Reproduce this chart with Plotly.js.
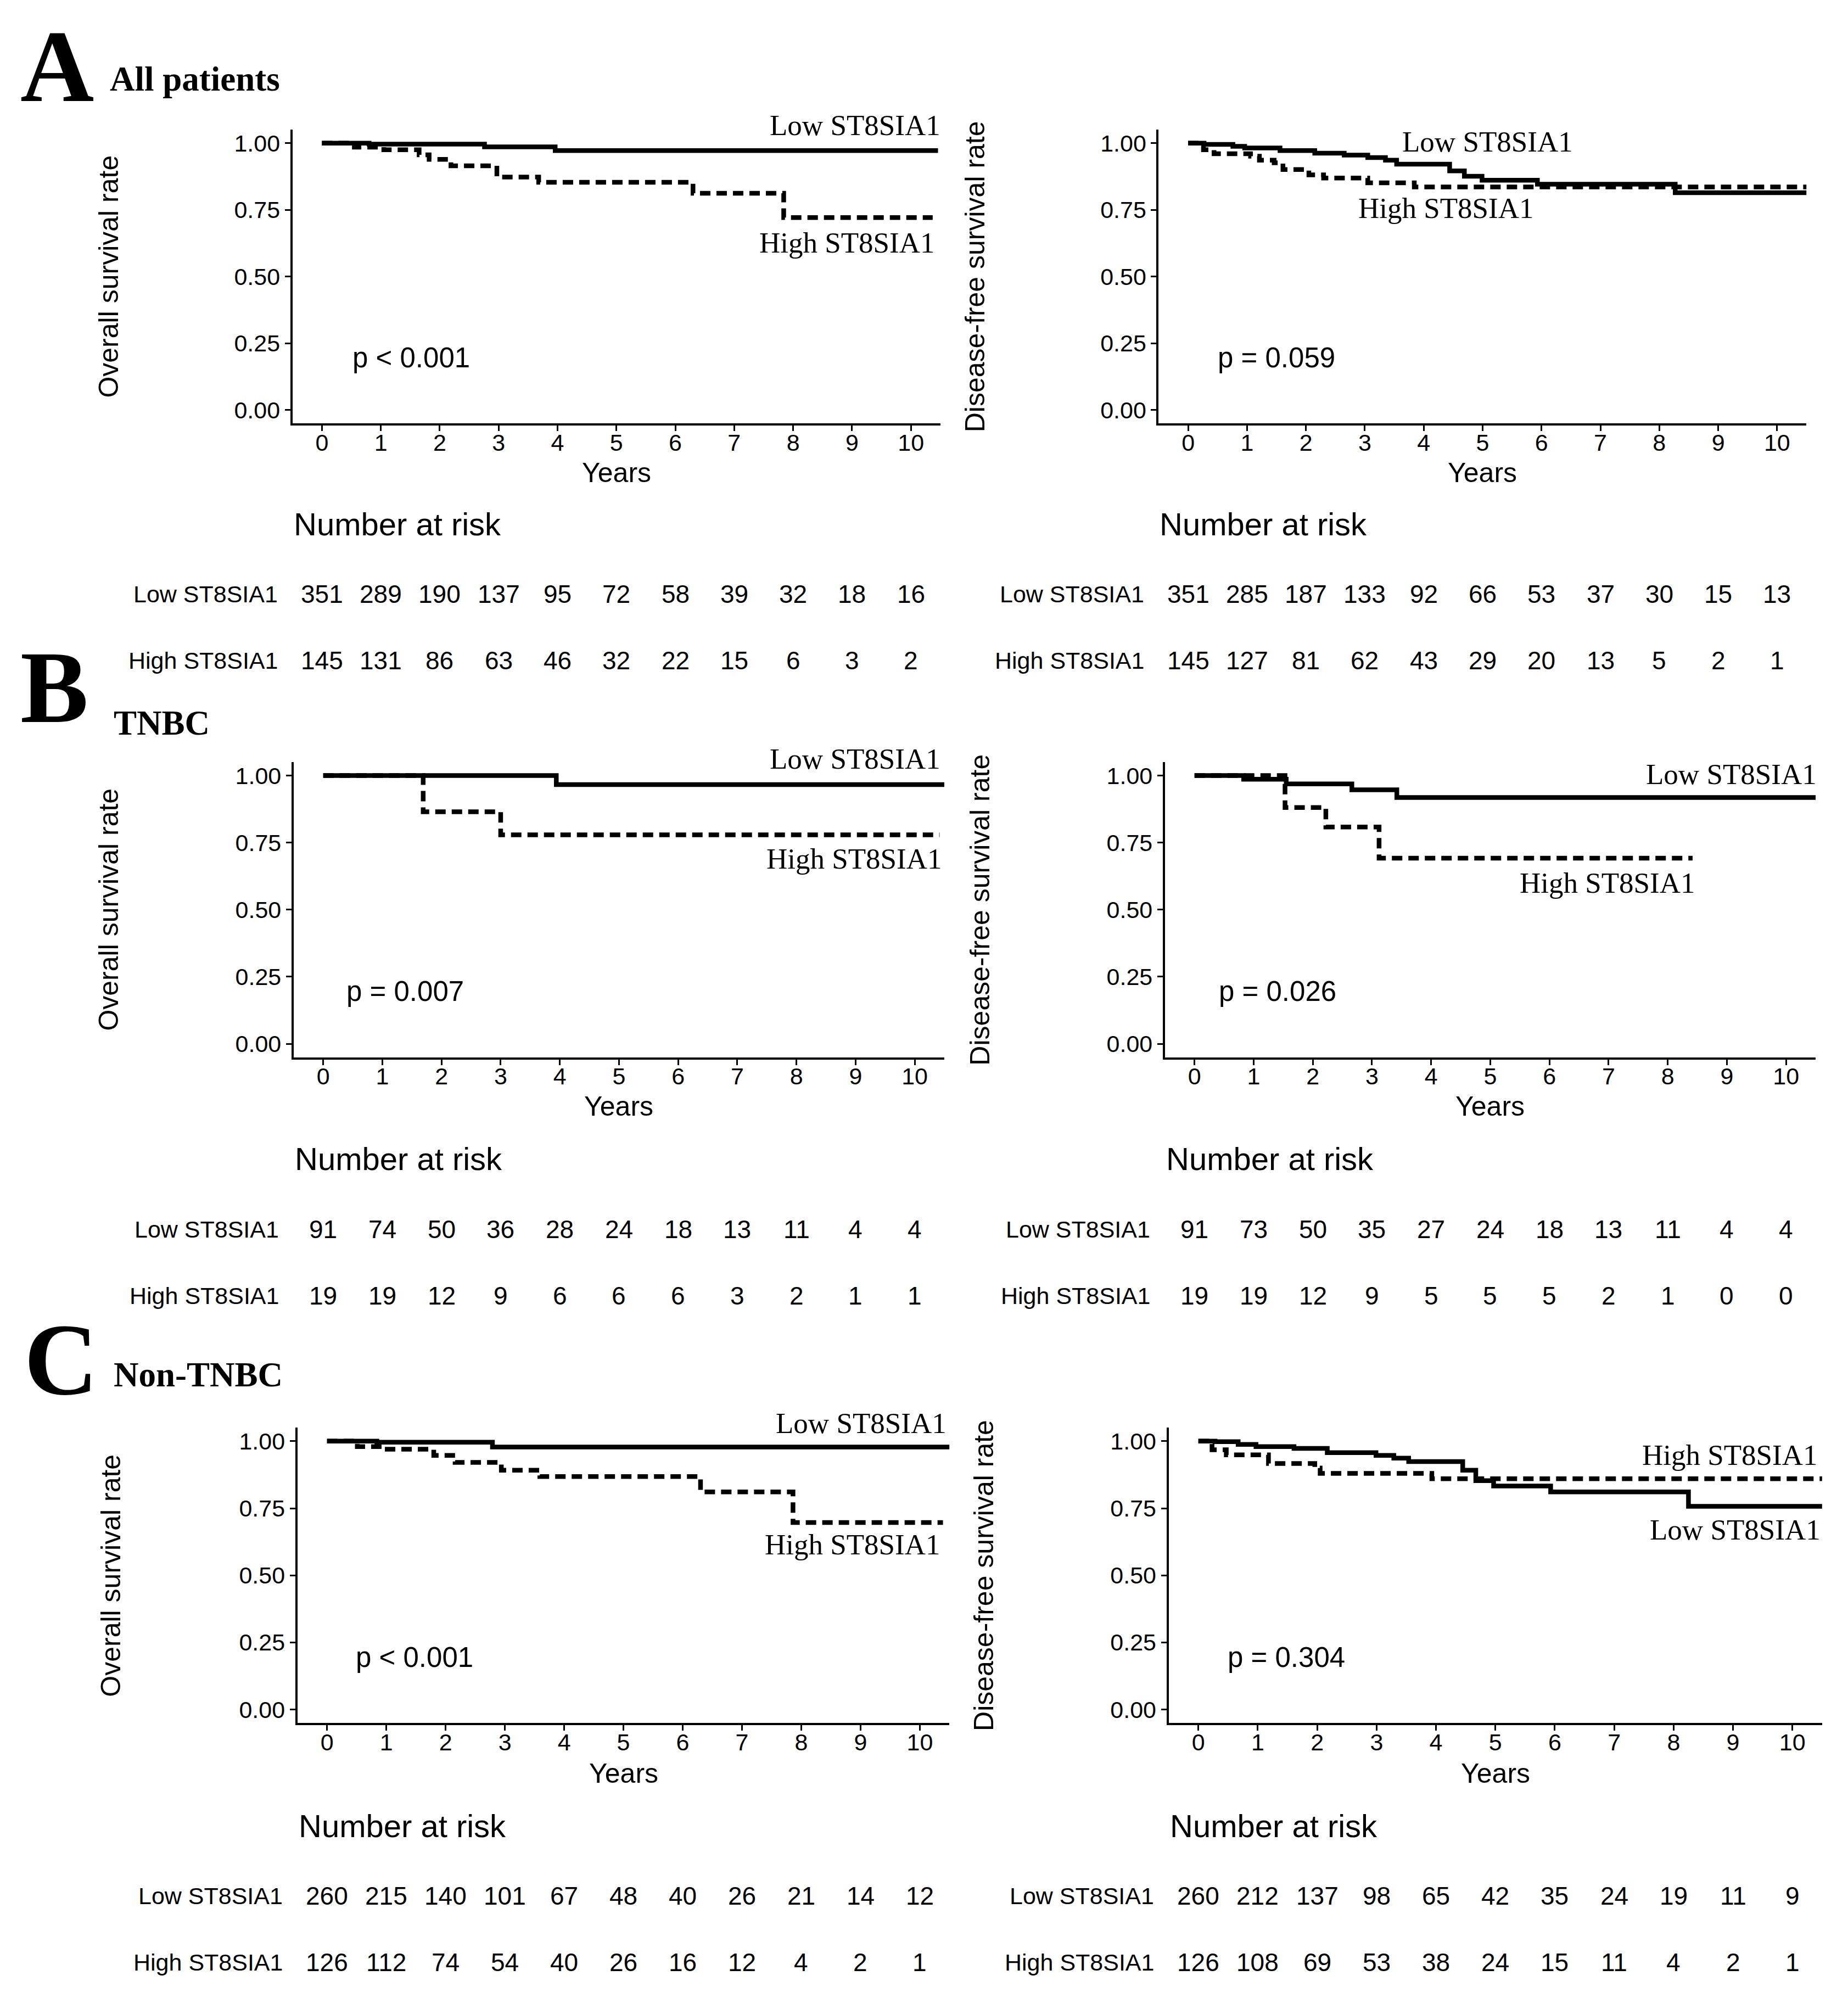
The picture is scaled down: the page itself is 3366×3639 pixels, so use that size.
<!DOCTYPE html>
<html>
<head>
<meta charset="utf-8">
<script src="https://cdn.plot.ly/plotly-3.0.1.min.js"></script>
<style>
html,body{margin:0;padding:0;background:#ffffff;}
#chart{width:3366px;height:3639px;}
</style>
</head>
<body>
<div id="chart"></div>
<script>
// ---------------- DATA ----------------
const yearTicks = [0, 1, 2, 3, 4, 5, 6, 7, 8, 9, 10];
const survTicks = [0, 0.25, 0.5, 0.75, 1];
const survTickText = ['0.00', '0.25', '0.50', '0.75', '1.00'];
const groupLow = 'Low ST8SIA1';
const groupHigh = 'High ST8SIA1';

// A - All patients, overall survival
const osAllLowTime  = [0, 0.80, 2.76, 3.96, 10.46];
const osAllLowSurv  = [1.000, 0.996, 0.986, 0.972, 0.972];
const osAllHighTime = [0, 0.55, 1.05, 1.65, 1.82, 2.19, 2.97, 3.68, 6.30, 7.84, 10.37];
const osAllHighSurv = [1.000, 0.985, 0.975, 0.956, 0.939, 0.915, 0.873, 0.853, 0.812, 0.721, 0.721];
// A - All patients, disease-free survival
const dfsAllLowTime  = [0, 0.27, 0.76, 0.96, 1.56, 2.15, 2.65, 3.05, 3.35, 3.54, 4.44, 4.69, 4.99, 5.93, 8.27, 10.5];
const dfsAllLowSurv  = [1.000, 0.995, 0.988, 0.982, 0.972, 0.962, 0.955, 0.946, 0.936, 0.921, 0.896, 0.876, 0.861, 0.846, 0.814, 0.814];
const dfsAllHighTime = [0, 0.26, 0.44, 1.06, 1.21, 1.46, 1.61, 2.05, 2.30, 3.05, 3.84, 10.5];
const dfsAllHighSurv = [1.000, 0.975, 0.960, 0.951, 0.936, 0.926, 0.901, 0.881, 0.869, 0.851, 0.836, 0.836];

// B - TNBC, overall survival
const osTnbcLowTime  = [0, 3.94, 10.5];
const osTnbcLowSurv  = [1.000, 0.966, 0.966];
const osTnbcHighTime = [0, 1.69, 3.00, 10.42];
const osTnbcHighSurv = [1.000, 0.865, 0.779, 0.779];
// B - TNBC, disease-free survival
const dfsTnbcLowTime  = [0, 0.83, 1.55, 2.66, 3.42, 10.5];
const dfsTnbcLowSurv  = [1.000, 0.986, 0.969, 0.947, 0.918, 0.918];
const dfsTnbcHighTime = [0, 1.53, 2.22, 3.12, 8.42];
const dfsTnbcHighSurv = [1.000, 0.881, 0.808, 0.692, 0.692];

// C - Non-TNBC, overall survival
const osNonLowTime  = [0, 0.84, 2.79, 10.5];
const osNonLowSurv  = [1.000, 0.996, 0.978, 0.978];
const osNonHighTime = [0, 0.51, 0.97, 1.80, 2.16, 2.94, 3.59, 6.30, 7.86, 10.39];
const osNonHighSurv = [1.000, 0.980, 0.970, 0.947, 0.921, 0.892, 0.868, 0.811, 0.697, 0.697];
// C - Non-TNBC, disease-free survival
const dfsNonLowTime  = [0, 0.28, 0.67, 0.97, 1.61, 2.17, 2.99, 3.29, 3.54, 4.45, 4.67, 4.97, 5.93, 8.25, 10.5];
const dfsNonLowSurv  = [1.000, 0.998, 0.988, 0.980, 0.973, 0.957, 0.947, 0.937, 0.924, 0.892, 0.853, 0.833, 0.811, 0.757, 0.757];
const dfsNonHighTime = [0, 0.23, 0.47, 1.18, 1.96, 2.05, 3.93, 10.5];
const dfsNonHighSurv = [1.000, 0.968, 0.949, 0.917, 0.900, 0.880, 0.860, 0.860];

// Numbers at risk (at years 0..10)
const riskOsAllLow   = [351, 289, 190, 137, 95, 72, 58, 39, 32, 18, 16];
const riskOsAllHigh  = [145, 131, 86, 63, 46, 32, 22, 15, 6, 3, 2];
const riskDfsAllLow  = [351, 285, 187, 133, 92, 66, 53, 37, 30, 15, 13];
const riskDfsAllHigh = [145, 127, 81, 62, 43, 29, 20, 13, 5, 2, 1];
const riskOsTnbcLow   = [91, 74, 50, 36, 28, 24, 18, 13, 11, 4, 4];
const riskOsTnbcHigh  = [19, 19, 12, 9, 6, 6, 6, 3, 2, 1, 1];
const riskDfsTnbcLow  = [91, 73, 50, 35, 27, 24, 18, 13, 11, 4, 4];
const riskDfsTnbcHigh = [19, 19, 12, 9, 5, 5, 5, 2, 1, 0, 0];
const riskOsNonLow   = [260, 215, 140, 101, 67, 48, 40, 26, 21, 14, 12];
const riskOsNonHigh  = [126, 112, 74, 54, 40, 26, 16, 12, 4, 2, 1];
const riskDfsNonLow  = [260, 212, 137, 98, 65, 42, 35, 24, 19, 11, 9];
const riskDfsNonHigh = [126, 108, 69, 53, 38, 24, 15, 11, 4, 2, 1];

const pValues = ['p < 0.001', 'p = 0.059', 'p = 0.007', 'p = 0.026', 'p < 0.001', 'p = 0.304'];
const yTitles = ['Overall survival rate', 'Disease-free survival rate'];
const sectionLetters = ['A', 'B', 'C'];
const sectionTitles = ['All patients', 'TNBC', 'Non-TNBC'];

// ---------------- LAYOUT GEOMETRY (reference units) ----------------
const W = 3366, H = 3639, S = 2.327;
const SANS = 'Liberation Sans, Arial, sans-serif';
const SERIF = 'Liberation Serif, Times New Roman, serif';

const panels = [
  {low:[osAllLowTime, osAllLowSurv], high:[osAllHighTime, osAllHighSurv], rl:riskOsAllLow, rh:riskOsAllHigh,
   g:{x0:252, x10:713, y1:112, y0:321}, yt:0, ytx:85, row:0,
   lowLab:{x:10.52, y:1.067, a:'right'}, highLab:{x:10.43, y:0.627, a:'right'}, pp:{x:0.50, y:0.196}},
  {low:[dfsAllLowTime, dfsAllLowSurv], high:[dfsAllHighTime, dfsAllHighSurv], rl:riskDfsAllLow, rh:riskDfsAllHigh,
   g:{x0:930, x10:1391, y1:112, y0:321}, yt:1, ytx:763, row:0,
   lowLab:{x:5.08, y:1.005, a:'center'}, highLab:{x:4.38, y:0.756, a:'center'}, pp:{x:0.48, y:0.196}},
  {low:[osTnbcLowTime, osTnbcLowSurv], high:[osTnbcHighTime, osTnbcHighSurv], rl:riskOsTnbcLow, rh:riskOsTnbcHigh,
   g:{x0:253, x10:716, y1:607, y0:817}, yt:0, ytx:85, row:1,
   lowLab:{x:10.45, y:1.062, a:'right'}, highLab:{x:10.48, y:0.690, a:'right'}, pp:{x:0.37, y:0.195}},
  {low:[dfsTnbcLowTime, dfsTnbcLowSurv], high:[dfsTnbcHighTime, dfsTnbcHighSurv], rl:riskDfsTnbcLow, rh:riskDfsTnbcHigh,
   g:{x0:935, x10:1398, y1:607, y0:817}, yt:1, ytx:767, row:1,
   lowLab:{x:10.54, y:1.005, a:'right'}, highLab:{x:6.98, y:0.600, a:'center'}, pp:{x:0.39, y:0.195}},
  {low:[osNonLowTime, osNonLowSurv], high:[osNonHighTime, osNonHighSurv], rl:riskOsNonLow, rh:riskOsNonHigh,
   g:{x0:256, x10:720, y1:1128, y0:1338}, yt:0, ytx:87, row:2,
   lowLab:{x:10.47, y:1.067, a:'right'}, highLab:{x:10.37, y:0.614, a:'right'}, pp:{x:0.47, y:0.195}},
  {low:[dfsNonLowTime, dfsNonLowSurv], high:[dfsNonHighTime, dfsNonHighSurv], rl:riskDfsNonLow, rh:riskDfsNonHigh,
   g:{x0:938, x10:1403, y1:1128, y0:1338}, yt:1, ytx:770, row:2,
   lowLab:{x:10.49, y:0.671, a:'right'}, highLab:{x:10.45, y:0.948, a:'right'}, pp:{x:0.47, y:0.195}}
];

const rowGeo = [
  {letterY:52, titleY:62, yearsY:370, narY:410, lowY:465, highY:517, letterX:15, titleX:85},
  {letterY:538, titleY:566, yearsY:866, narY:907, lowY:962, highY:1014, letterX:15, titleX:88},
  {letterY:1064, titleY:1076, yearsY:1388, narY:1429, lowY:1484, highY:1536, letterX:18, titleX:88}
];

const px = v => v * S / W;          // reference x -> paper x
const py = v => 1 - v * S / H;      // reference y -> paper y

const data = [];
const layout = {
  width: W, height: H,
  margin: {l:0, r:0, t:0, b:0, pad:0},
  paper_bgcolor: '#ffffff', plot_bgcolor: '#ffffff',
  showlegend: false,
  annotations: []
};
const A = layout.annotations;

panels.forEach((p, i) => {
  const n = i + 1;
  const xa = 'x' + (n === 1 ? '' : n), ya = 'y' + (n === 1 ? '' : n);
  const g = p.g;
  const u = (g.x10 - g.x0) / 10, h = g.y0 - g.y1;
  const left = g.x0 - 0.5 * u, right = g.x10 + 0.5 * u;
  const top = g.y1 - 0.05 * h, bottom = g.y0 + 0.05 * h;
  const gx = t => px(g.x0 + t * u);          // year -> paper x (for labels outside the axis range)
  const gy = v => py(g.y0 - v * h);          // survival -> paper y

  layout['xaxis' + (n === 1 ? '' : n)] = {
    domain: [px(left), px(right)], range: [-0.5, 10.5], anchor: ya,
    tickvals: yearTicks, ticktext: yearTicks.map(String),
    ticks: 'outside', ticklen: 10, tickwidth: 3, tickcolor: '#000', ticklabelstandoff: -16,
    showline: true, linecolor: '#000', linewidth: 4,
    showgrid: false, zeroline: false, fixedrange: true,
    tickfont: {family: SANS, size: 43, color: '#000'}
  };
  layout['yaxis' + (n === 1 ? '' : n)] = {
    domain: [py(bottom), py(top)], range: [-0.05, 1.05], anchor: xa,
    tickvals: survTicks, ticktext: survTickText,
    ticks: 'outside', ticklen: 10, tickwidth: 3, tickcolor: '#000',
    showline: true, linecolor: '#000', linewidth: 4,
    showgrid: false, zeroline: false, fixedrange: true,
    tickfont: {family: SANS, size: 43, color: '#000'}
  };

  data.push({x: p.low[0], y: p.low[1], xaxis: xa, yaxis: ya, mode: 'lines', name: groupLow,
             line: {shape: 'hv', color: '#000', width: 8.5}, hoverinfo: 'skip'});
  data.push({x: p.high[0], y: p.high[1], xaxis: xa, yaxis: ya, mode: 'lines', name: groupHigh,
             line: {shape: 'hv', color: '#000', width: 8.5, dash: '19px,11px'}, hoverinfo: 'skip'});

  // curve labels
  A.push({xref: 'paper', yref: 'paper', x: gx(p.lowLab.x), y: gy(p.lowLab.y), text: groupLow, showarrow: false,
          xanchor: p.lowLab.a, yanchor: 'middle', font: {family: SERIF, size: 53, color: '#000'}});
  A.push({xref: 'paper', yref: 'paper', x: gx(p.highLab.x), y: gy(p.highLab.y), text: groupHigh, showarrow: false,
          xanchor: p.highLab.a, yanchor: 'middle', font: {family: SERIF, size: 53, color: '#000'}});
  // p value
  A.push({xref: xa, yref: ya, x: p.pp.x, y: p.pp.y, text: pValues[i], showarrow: false,
          xanchor: 'left', yanchor: 'middle', font: {family: SANS, size: 51, color: '#000'}});
  // y title
  A.push({xref: 'paper', yref: ya, x: px(p.ytx), y: 0.5, text: yTitles[p.yt], showarrow: false,
          textangle: -90, xanchor: 'center', yanchor: 'middle', font: {family: SANS, size: 50, color: '#000'}});

  const rg = rowGeo[p.row];
  // x title
  A.push({xref: 'paper', yref: 'paper', x: px((left + right) / 2), y: py(rg.yearsY), text: 'Years', showarrow: false,
          xanchor: 'center', yanchor: 'middle', font: {family: SANS, size: 50, color: '#000'}});
  // risk table
  A.push({xref: 'paper', yref: 'paper', x: gx(-0.5), y: py(rg.narY), text: 'Number at risk', showarrow: false,
          xanchor: 'left', yanchor: 'middle', font: {family: SANS, size: 58, color: '#000'}});
  A.push({xref: 'paper', yref: 'paper', x: gx(-0.73), y: py(rg.lowY), text: groupLow, showarrow: false,
          xanchor: 'right', yanchor: 'middle', font: {family: SANS, size: 43, color: '#000'}});
  A.push({xref: 'paper', yref: 'paper', x: gx(-0.73), y: py(rg.highY), text: groupHigh, showarrow: false,
          xanchor: 'right', yanchor: 'middle', font: {family: SANS, size: 43, color: '#000'}});
  yearTicks.forEach((t, k) => {
    A.push({xref: xa, yref: 'paper', x: t, y: py(rg.lowY), text: String(p.rl[k]), showarrow: false,
            xanchor: 'center', yanchor: 'middle', font: {family: SANS, size: 46, color: '#000'}});
    A.push({xref: xa, yref: 'paper', x: t, y: py(rg.highY), text: String(p.rh[k]), showarrow: false,
            xanchor: 'center', yanchor: 'middle', font: {family: SANS, size: 46, color: '#000'}});
  });
});

// section letters and titles
rowGeo.forEach((rg, r) => {
  A.push({xref: 'paper', yref: 'paper', x: px(rg.letterX), y: py(rg.letterY), text: '<b>' + sectionLetters[r] + '</b>',
          showarrow: false, xanchor: 'left', yanchor: 'middle', font: {family: SERIF, size: 186, color: '#000'}});
  A.push({xref: 'paper', yref: 'paper', x: px(rg.titleX), y: py(rg.titleY), text: '<b>' + sectionTitles[r] + '</b>',
          showarrow: false, xanchor: 'left', yanchor: 'middle', font: {family: SERIF, size: 63, color: '#000'}});
});

Plotly.newPlot('chart', data, layout, {displayModeBar: false, staticPlot: true});
</script>
</body>
</html>
